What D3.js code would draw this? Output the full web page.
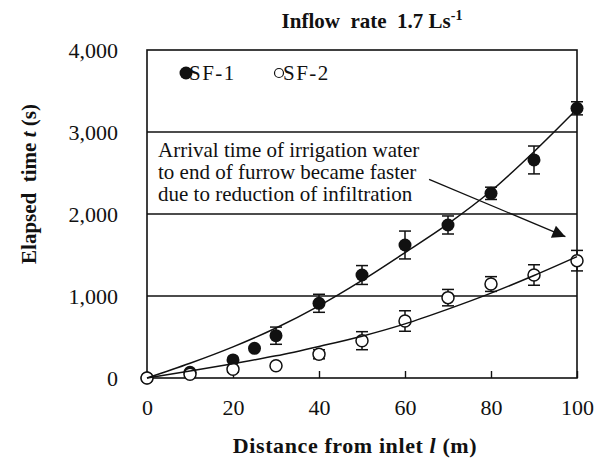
<!DOCTYPE html>
<html>
<head>
<meta charset="utf-8">
<script src="https://cdn.jsdelivr.net/npm/d3@7"></script>
<style>
  body { margin: 0; background: #fff; }
  svg { display: block; font-family: "Liberation Serif", "Times New Roman", serif; }
</style>
</head>
<body>
<script>
// measured points (distance m, elapsed time s, error s)
let sf1_x = [0, 10, 20, 25, 30, 40, 50, 60, 70, 80, 90, 100]
let sf1_t = [0, 70, 220, 362, 516, 911, 1256, 1622, 1866, 2252, 2659, 3289]
let sf1_err = [0, 0, 0, 0, 105, 110, 115, 170, 110, 75, 170, 80]

let sf2_x = [0, 10, 20, 30, 40, 50, 60, 70, 80, 90, 100]
let sf2_t = [0, 45, 106, 150, 289, 455, 695, 980, 1146, 1256, 1431]
let sf2_err = [0, 0, 35, 0, 55, 110, 125, 100, 90, 125, 125]

// fitted curves
let fit_x = [0, 10, 20, 30, 40, 50, 60, 70, 80, 90, 100]
let fit1_t = [0, 180, 380, 610, 880, 1190, 1530, 1880, 2280, 2760, 3280]
let fit2_t = [0, 85, 175, 270, 385, 510, 660, 840, 1035, 1250, 1480]

let x_ticks = [0, 20, 40, 60, 80, 100]
let y_ticks = [0, 1000, 2000, 3000, 4000]
let grid_ticks = [1000, 2000, 3000]

let note_lines = ['Arrival time of irrigation water', 'to end of furrow became faster', 'due to reduction of infiltration']
let arrow_from = [65.6, 2423]
let arrow_to = [97.3, 1723]

let width = 605
let height = 461
let margin = ({top: 50, right: 28, bottom: 83, left: 147})

let x = d3.scaleLinear()
    .domain([0, 100])
    .range([margin.left, width - margin.right])

let y = d3.scaleLinear()
    .domain([0, 4000])
    .range([height - margin.bottom, margin.top])

const svg = d3.select('body').append('svg')
    .attr('width', width)
    .attr('height', height)

svg.append('defs').append('marker')
    .attr('id', 'head')
    .attr('viewBox', '0 0 10 10')
    .attr('refX', 10).attr('refY', 5)
    .attr('markerWidth', 16).attr('markerHeight', 13)
    .attr('markerUnits', 'userSpaceOnUse')
    .attr('orient', 'auto')
  .append('path')
    .attr('d', 'M0,0L10,5L0,10Z')
    .attr('fill', '#111')

// gridlines
svg.append('g')
  .selectAll('line')
  .data(grid_ticks)
  .join('line')
    .attr('x1', x(0)).attr('x2', x(100))
    .attr('y1', d => y(d)).attr('y2', d => y(d))
    .attr('stroke', '#111')
    .attr('stroke-width', 1.4)

// x axis with inward ticks
let xAxis = g => g
    .attr('transform', `translate(0,${y(0)})`)
    .call(d3.axisBottom(x).tickValues(x_ticks).tickSize(-7).tickPadding(21).tickFormat(d3.format('d')))
    .call(g => g.select('.domain').remove())
    .call(g => g.selectAll('.tick line').attr('stroke', '#111').attr('stroke-width', 1.4))
    .call(g => g.selectAll('text').attr('fill', '#111').style('font-size', '22px').style('font-family', 'Liberation Serif'))

let yAxis = g => g
    .attr('transform', `translate(${x(0)},0)`)
    .call(d3.axisLeft(y).tickValues(y_ticks).tickSize(0).tickPadding(29).tickFormat(d3.format(',')))
    .call(g => g.select('.domain').remove())
    .call(g => g.selectAll('text').attr('fill', '#111').style('font-size', '22px').style('font-family', 'Liberation Serif'))

svg.append('g').call(xAxis)
svg.append('g').call(yAxis)

// frame
svg.append('rect')
    .attr('x', x(0)).attr('y', y(4000))
    .attr('width', x(100) - x(0)).attr('height', y(0) - y(4000))
    .attr('fill', 'none')
    .attr('stroke', '#111')
    .attr('stroke-width', 1.6)

let sf1 = sf1_x.map((d, i) => ({x: d, t: sf1_t[i], e: sf1_err[i]}))
let sf2 = sf2_x.map((d, i) => ({x: d, t: sf2_t[i], e: sf2_err[i]}))

function errorbars(data) {
  let g = svg.append('g')
      .attr('stroke', '#111')
      .attr('stroke-width', 1.5)
  let d2 = data.filter(d => d.e > 0)
  g.selectAll('line.v').data(d2).join('line')
      .attr('x1', d => x(d.x)).attr('x2', d => x(d.x))
      .attr('y1', d => y(d.t - d.e)).attr('y2', d => y(d.t + d.e))
  g.selectAll('line.hi').data(d2).join('line')
      .attr('x1', d => x(d.x) - 6).attr('x2', d => x(d.x) + 6)
      .attr('y1', d => y(d.t + d.e)).attr('y2', d => y(d.t + d.e))
  g.selectAll('line.lo').data(d2).join('line')
      .attr('x1', d => x(d.x) - 6).attr('x2', d => x(d.x) + 6)
      .attr('y1', d => y(d.t - d.e)).attr('y2', d => y(d.t - d.e))
}

errorbars(sf1)
svg.append('g')
  .selectAll('circle')
  .data(sf1)
  .join('circle')
    .attr('cx', d => x(d.x))
    .attr('cy', d => y(d.t))
    .attr('r', 6.5)
    .attr('fill', '#111')

errorbars(sf2)
svg.append('g')
  .selectAll('circle')
  .data(sf2)
  .join('circle')
    .attr('cx', d => x(d.x))
    .attr('cy', d => y(d.t))
    .attr('r', 6)
    .attr('fill', '#fff')
    .attr('stroke', '#111')
    .attr('stroke-width', 1.5)

let line = d3.line()
    .x((d, i) => x(fit_x[i]))
    .y(d => y(d))
    .curve(d3.curveMonotoneX)

svg.append('g')
  .selectAll('path')
  .data([fit1_t, fit2_t])
  .join('path')
    .attr('d', line)
    .attr('fill', 'none')
    .attr('stroke', '#111')
    .attr('stroke-width', 1.5)

// note and arrow
svg.append('text')
    .attr('fill', '#111')
    .style('font-size', '21px')
  .selectAll('tspan')
  .data(note_lines)
  .join('tspan')
    .attr('x', 158)
    .attr('y', (d, i) => 157 + i * 22)
    .text(d => d)

svg.append('line')
    .attr('x1', x(arrow_from[0])).attr('y1', y(arrow_from[1]))
    .attr('x2', x(arrow_to[0])).attr('y2', y(arrow_to[1]))
    .attr('stroke', '#111')
    .attr('stroke-width', 1.3)
    .attr('marker-end', 'url(#head)')

// legend
svg.append('circle').attr('cx', 186).attr('cy', 73).attr('r', 6.5).attr('fill', '#111')
svg.append('text').attr('x', 189).attr('y', 80).attr('fill', '#111').style('font-size', '21px').style('letter-spacing', '1.5px').text('SF-1')
svg.append('circle').attr('cx', 279).attr('cy', 73).attr('r', 4.5).attr('fill', '#fff').attr('stroke', '#111').attr('stroke-width', 1.2)
svg.append('text').attr('x', 283).attr('y', 80).attr('fill', '#111').style('font-size', '21px').style('letter-spacing', '1.5px').text('SF-2')

// title and axis labels
let title = svg.append('text')
    .attr('x', 372).attr('y', 28)
    .attr('text-anchor', 'middle')
    .attr('fill', '#111')
    .style('font-size', '21px')
    .style('font-weight', 'bold')
    .attr('xml:space', 'preserve')
title.append('tspan').text('Inflow  rate  1.7 Ls')
title.append('tspan').attr('dy', -8).style('font-size', '14px').text('-1')

let xl = svg.append('text')
    .attr('x', 355).attr('y', 453)
    .attr('text-anchor', 'middle')
    .attr('fill', '#111')
    .style('font-size', '22px')
    .style('font-weight', 'bold')
    .style('letter-spacing', '0.6px')
    .attr('xml:space', 'preserve')
xl.append('tspan').text('Distance from inlet ')
xl.append('tspan').style('font-style', 'italic').text('l')
xl.append('tspan').text(' (m)')

let yl = svg.append('text')
    .attr('transform', 'translate(36,184) rotate(-90)')
    .attr('text-anchor', 'middle')
    .attr('fill', '#111')
    .style('font-size', '21px')
    .style('font-weight', 'bold')
    .attr('xml:space', 'preserve')
yl.append('tspan').text('Elapsed  time ')
yl.append('tspan').style('font-style', 'italic').text('t')
yl.append('tspan').text(' (s)')
</script>
</body>
</html>
